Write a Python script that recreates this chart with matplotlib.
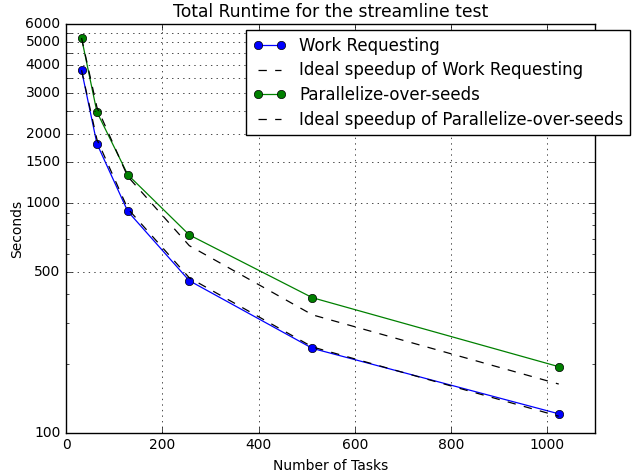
import matplotlib
matplotlib.use('Agg')
import matplotlib.pyplot as plt
from matplotlib.ticker import FixedLocator, NullFormatter

# --- Data ---
tasks = [32, 64, 128, 256, 512, 1024]
work_requesting = [3780, 1810, 920, 459, 233, 121]
ideal_work_requesting = [3780, 1890, 945, 472.5, 236.3, 118.1]
parallel_seeds = [5215, 2487, 1328, 726, 387, 194]
ideal_parallel_seeds = [5215, 2608, 1304, 652, 326, 163]

major_yticks = [100, 500, 1000, 1500, 2000, 2500, 3000, 3500, 4000, 4500, 5000, 5500, 6000]
major_ylabels = ['100', '500', '1000', '1500', '2000', '', '3000', '', '4000', '', '5000', '', '6000']
minor_yticks = [200, 300, 400, 600, 700, 800, 900]

# --- Plot ---
plt.style.use('classic')
fig = plt.figure(figsize=(6.36, 4.72), dpi=100)
ax = fig.add_axes([0.104, 0.083, 0.832, 0.866])

ax.plot(tasks, work_requesting, 'b-o', markersize=6, linewidth=0.9, label='Work Requesting')
ax.plot(tasks, ideal_work_requesting, 'k--', linewidth=0.9, label='Ideal speedup of Work Requesting')
ax.plot(tasks, parallel_seeds, 'g-o', markersize=6, linewidth=0.9, label='Parallelize-over-seeds')
ax.plot(tasks, ideal_parallel_seeds, 'k--', linewidth=0.9, label='Ideal speedup of Parallelize-over-seeds')

ax.set_yscale('log')
ax.set_ylim(100, 6000)
ax.set_xlim(0, 1100)
ax.yaxis.set_major_locator(FixedLocator(major_yticks))
ax.set_yticklabels(major_ylabels)
ax.yaxis.set_minor_locator(FixedLocator(minor_yticks))
ax.yaxis.set_minor_formatter(NullFormatter())
ax.tick_params(labelsize=10)
ax.grid(True, which='major')

ax.set_title('Total Runtime for the streamline test', fontsize=12.3)
ax.set_xlabel('Number of Tasks', fontsize=10)
ax.set_ylabel('Seconds', fontsize=10, labelpad=1)

ax.legend(loc='upper left', bbox_to_anchor=(246 / 636, 1 - 30 / 472),
          bbox_transform=fig.transFigure, fontsize=12, numpoints=2,
          borderaxespad=0, fancybox=False, labelspacing=0.4)

fig.savefig('out.png', dpi=100)
